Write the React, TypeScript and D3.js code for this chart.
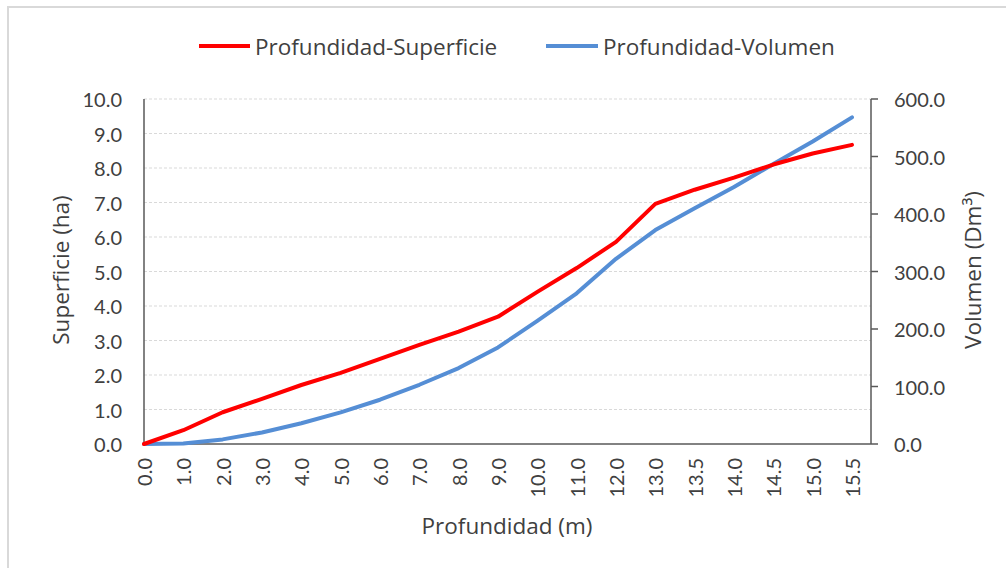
import React from "react";
import * as d3 from "d3";

const categories = ["0.0","1.0","2.0","3.0","4.0","5.0","6.0","7.0","8.0","9.0","10.0","11.0","12.0","13.0","13.5","14.0","14.5","15.0","15.5"];
const superficie = [0, 0.4, 0.92, 1.31, 1.71, 2.06, 2.47, 2.87, 3.26, 3.69, 4.41, 5.1, 5.86, 6.96, 7.37, 7.72, 8.1, 8.42, 8.67];
const volumen = [0, 1, 8, 20, 36, 55, 77, 103, 132, 168, 214, 262, 322, 372, 410, 447, 487, 526, 568];
const leftTicks = [0,1,2,3,4,5,6,7,8,9,10];
const rightTicks = [0,100,200,300,400,500,600];

const FONT = "Lato, 'Open Sans', sans-serif";
const TFONT = "'Open Sans', Lato, sans-serif";
const TXT = "#404040";
const RED = "#FF0000";
const BLUE = "#558ED5";

export default function App() {
  const left = 144, right = 871, top = 99, bottom = 444;
  const x = d3.scalePoint<string>().domain(categories).range([144, 852]);
  const yL = d3.scaleLinear().domain([0, 10]).range([bottom, top]);
  const yR = d3.scaleLinear().domain([0, 600]).range([bottom, top]);
  const lineL = d3.line<number>().x((_, i) => x(categories[i])!).y(d => yL(d));
  const lineR = d3.line<number>().x((_, i) => x(categories[i])!).y(d => yR(d));

  return (
    <svg width={1006} height={568} style={{ position: "absolute", left: 0, top: 0, background: "#fff" }} fontFamily={FONT}>
      <rect x={8} y={7} width={1200} height={1000} fill="#fff" stroke="#d9d9d9" strokeWidth={2} />
      {/* gridlines */}
      {leftTicks.filter(t => t > 0).map(t => (
        <line key={"g" + t} x1={left} x2={right} y1={yL(t)} y2={yL(t)} stroke="#d9d9d9" strokeWidth={1} strokeDasharray="3,2" />
      ))}
      {/* axes */}
      <line x1={left} x2={left} y1={top} y2={bottom} stroke="#595959" strokeWidth={1.5} />
      <line x1={right} x2={right} y1={top} y2={bottom} stroke="#595959" strokeWidth={1.5} />
      <line x1={left} x2={right} y1={bottom} y2={bottom} stroke="#595959" strokeWidth={1.5} />
      {rightTicks.map(t => (
        <line key={"rt" + t} x1={right} x2={right + 7} y1={yR(t)} y2={yR(t)} stroke="#595959" strokeWidth={1.5} />
      ))}
      {/* tick labels */}
      {leftTicks.map(t => (
        <text key={"lt" + t} x={122} y={yL(t)} textAnchor="end" dominantBaseline="central" fontSize={20} fill={TXT}>{t.toFixed(1)}</text>
      ))}
      {rightTicks.map(t => (
        <text key={"rl" + t} x={894} y={yR(t)} textAnchor="start" dominantBaseline="central" fontSize={20} fill={TXT}>{t.toFixed(1)}</text>
      ))}
      {categories.map(c => (
        <text key={"xc" + c} transform={`translate(${x(c)!},458) rotate(-90)`} textAnchor="end" dominantBaseline="central" fontSize={20} fill={TXT}>{c}</text>
      ))}
      {/* series */}
      <path d={lineR(volumen)!} fill="none" stroke={BLUE} strokeWidth={4} strokeLinejoin="round" strokeLinecap="round" />
      <path d={lineL(superficie)!} fill="none" stroke={RED} strokeWidth={4} strokeLinejoin="round" strokeLinecap="round" />
      {/* axis titles */}
      <g fontFamily={TFONT} fontSize={22.5} fill={TXT}>
        <text transform="translate(60,270) rotate(-90)" textAnchor="middle" dominantBaseline="central">Superficie (ha)</text>
        <text transform="translate(972,270) rotate(-90)" textAnchor="middle" dominantBaseline="central">Volumen (Dm³)</text>
        <text x={507} y={525} textAnchor="middle" dominantBaseline="central">Profundidad (m)</text>
        {/* legend */}
        <line x1={199} x2={250} y1={46} y2={46} stroke={RED} strokeWidth={4} />
        <text x={255} y={46} dominantBaseline="central">Profundidad-Superficie</text>
        <line x1={546} x2={598} y1={46} y2={46} stroke={BLUE} strokeWidth={4} />
        <text x={603} y={46} dominantBaseline="central">Profundidad-Volumen</text>
      </g>
    </svg>
  );
}
